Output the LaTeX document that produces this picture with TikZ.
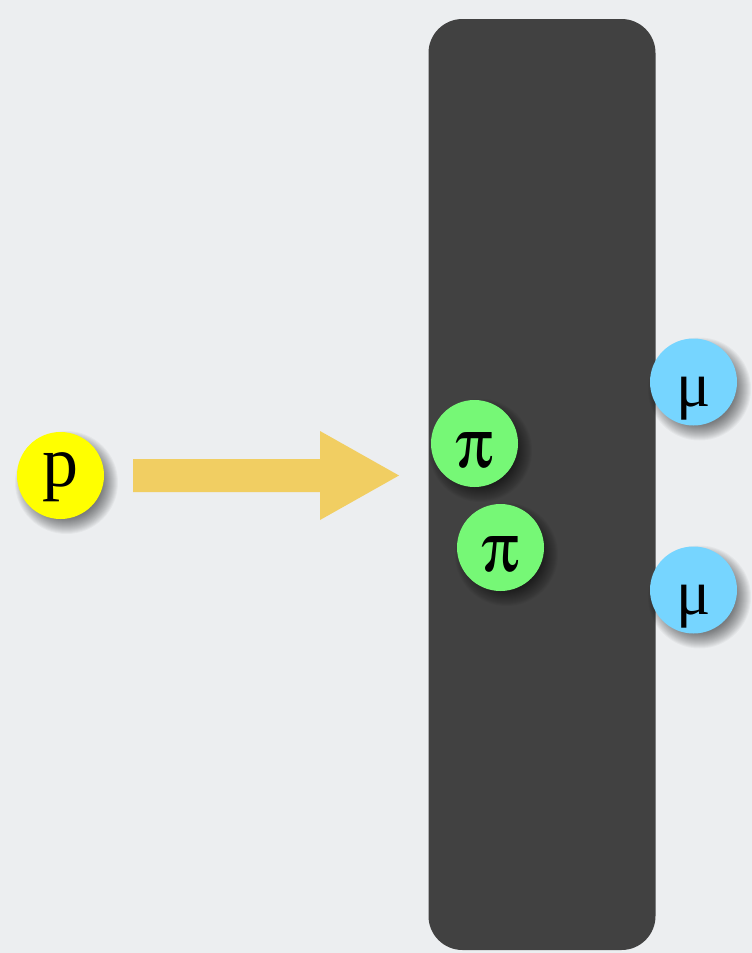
\documentclass[tikz,border=0pt]{standalone}
\usepackage{fontspec}
\newfontfamily\timesf{Liberation Serif}
\usepackage[Symbol]{upgreek}
\definecolor{bgc}{HTML}{ECEEF0}
\definecolor{boxc}{HTML}{414141}
\definecolor{pyel}{HTML}{FFFF00}
\definecolor{pigreen}{HTML}{76F876}
\definecolor{mublue}{HTML}{76D5FF}
\definecolor{arrowc}{HTML}{F1CE62}
\begin{document}
\begin{tikzpicture}[x=1pt,y=-1pt,
  particle/.style={circle, minimum size=87pt, inner sep=0pt, text depth=0pt},
  shadowlayer/.style={fill=black, fill opacity=0.035},
  protonlbl/.style={font=\fontsize{72}{72}\selectfont\timesf, text height=21pt},
  pionlbl/.style={font=\fontsize{70}{70}\selectfont, text height=47pt},
  muonlbl/.style={font=\fontsize{64}{64}\selectfont\timesf, text height=48pt}]
\useasboundingbox (0,0) rectangle (752,953);
\fill[bgc] (0,0) rectangle (752,953);
\node[fill=boxc, rounded corners=34pt, minimum width=227pt, minimum height=931pt, inner sep=0pt] (box) at (542,484.5) {};
% soft drop shadows
\foreach \cx/\cy in {60.5/475.5, 474.5/443.5, 500.5/547.5, 693.5/382, 693.5/590}
  \foreach \k in {0,...,16}
    \fill[shadowlayer] (\cx+6,\cy+7) circle[radius=51.5-\k];
\node[particle, protonlbl, fill=pyel] (p) at (60.5,475.5) {p};
\coordinate (tip) at (399,475.5);
\fill[arrowc] (133,459) -- (320,459) -- (320,431) -- (tip) -- (320,520) -- (320,492) -- (133,492) -- cycle;
\node[particle, pionlbl, fill=pigreen] (pi1) at (474.5,443.5) {$\uppi$};
\node[particle, pionlbl, fill=pigreen] (pi2) at (500.5,547.5) {$\uppi$};
\node[particle, muonlbl, fill=mublue] (mu1) at (693.5,382) {μ};
\node[particle, muonlbl, fill=mublue] (mu2) at (693.5,590) {μ};
\end{tikzpicture}
\end{document}
